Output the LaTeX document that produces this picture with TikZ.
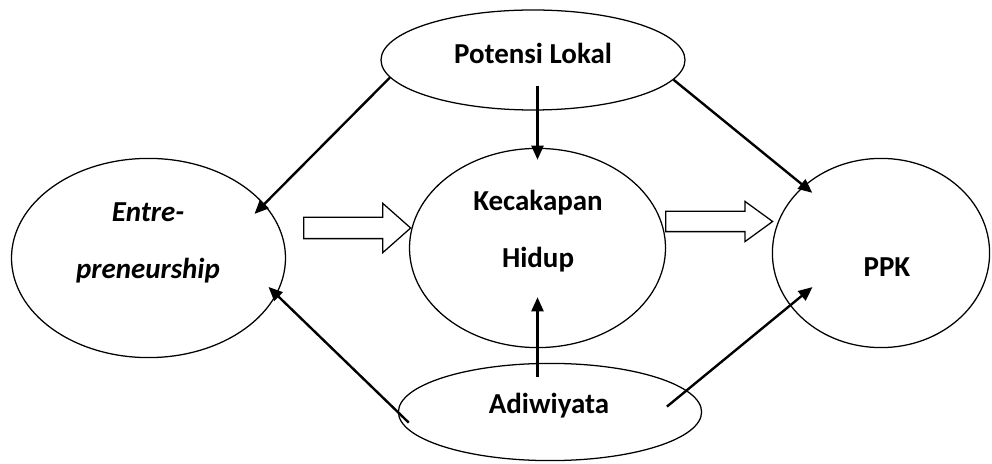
\documentclass[tikz,border=0pt]{standalone}
\usepackage{fontspec}
\setmainfont{Carlito}
\usetikzlibrary{arrows.meta,shapes.geometric,shapes.arrows}

\tikzset{
  elips/.style={ellipse, draw, line width=0.9pt, inner sep=0pt},
  teks/.style={font=\fontsize{20.6}{40.5}\selectfont\bfseries, align=center},
  pijl/.style={line width=1.7pt, -{Triangle[length=10pt,width=8.5pt]}},
  blok/.style={single arrow, draw, line width=0.9pt, inner xsep=0pt, anchor=tail, minimum height=2.675cm}
}

\begin{document}
\begin{tikzpicture}
\useasboundingbox (0,0) rectangle (24.8,11.575);
% ellipses
\node [elips, minimum width=7.6cm, minimum height=2.5cm] (pot) at (13.325,10.075) {};
\node [elips, minimum width=6.85cm, minimum height=4.98cm] (ent) at (3.7125,5.125) {};
\node [elips, minimum width=6.4cm, minimum height=4.98cm] (kec) at (13.4375,5.375) {};
\node [elips, minimum width=5.43cm, minimum height=4.73cm] (ppk) at (22.025,5.25) {};
\node [elips, minimum width=7.58cm, minimum height=2.43cm] (adi) at (13.75,1.275) {};
% texts
\node [teks] (pot-t) at (13.325,10.25) {Potensi Lokal};
\node [teks] (ent-t) at (3.7,5.5125) {\textit{Entre-}\\\textit{preneurship}};
\node [teks] (kec-t) at (13.45,5.7875) {Kecakapan\\Hidup};
\node [teks] (ppk-t) at (22.175,4.9) {PPK};
\node [teks] (adi-t) at (13.725,1.425) {Adiwiyata};
% arrows
\draw [pijl, shorten >=-0.35cm] (pot.187) -- (ent.25);
\draw [pijl, shorten <=-0.625cm, shorten >=-0.3cm] (kec.north |- pot.south) -- (kec.north);
\draw [pijl, shorten >=-0.28cm] (pot.-8) -- (ppk.139);
\draw [pijl, shorten <=-0.38cm, shorten >=-0.28cm] (adi.180) -- (ent.-16.5);
\draw [pijl, shorten <=-0.35cm, shorten >=-1.275cm] (kec.south |- adi.north) -- (kec.south);
\draw [pijl, shorten <=-0.64cm, shorten >=-0.73cm] (adi.9) -- (ppk.210);
% block arrows
\node [blok, inner ysep=0.25cm, single arrow head extend=0.35cm, single arrow tip angle=83] (b1) at (7.575,5.875) {};
\node [blok, inner ysep=0.2375cm, single arrow head extend=0.25cm, single arrow tip angle=72] (b2) at (16.625,6.0375) {};
\end{tikzpicture}
\end{document}
